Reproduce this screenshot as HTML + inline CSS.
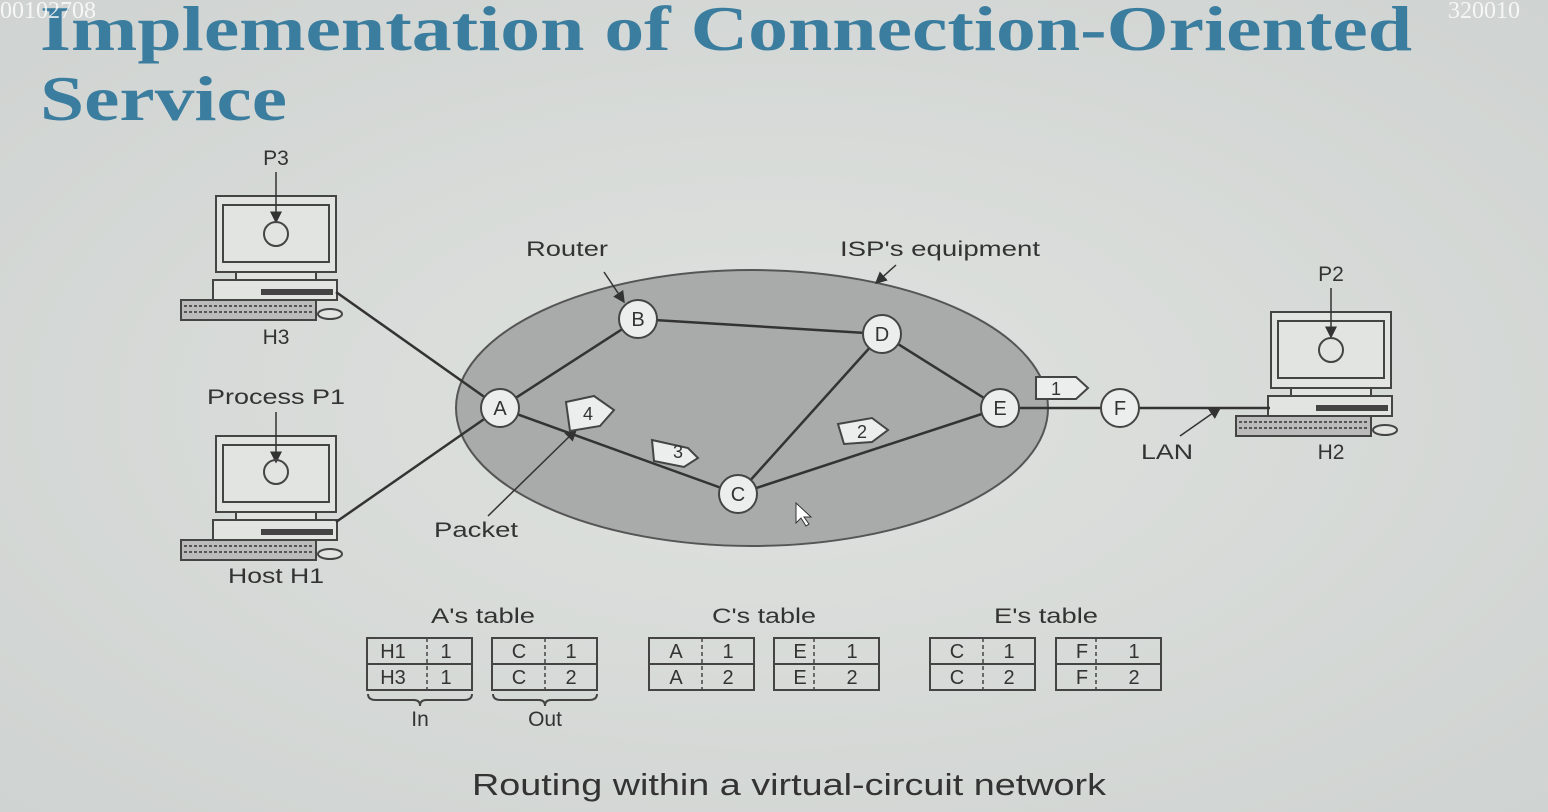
<!DOCTYPE html>
<html><head><style>
body{margin:0;width:1548px;height:812px;overflow:hidden;background:#d9dcda;}
svg{display:block}
</style></head><body>
<svg width="1548" height="812" viewBox="0 0 1548 812" xmlns="http://www.w3.org/2000/svg" font-family="Liberation Sans, sans-serif">
<defs>
<radialGradient id="bg" cx="50%" cy="50%" r="70%"><stop offset="0" stop-color="#dfe2df"/><stop offset="1" stop-color="#cfd3d1"/></radialGradient>
<marker id="ar" markerWidth="8" markerHeight="8" refX="7" refY="4" orient="auto"><path d="M0,0 L8,4 L0,8z" fill="#333"/></marker>
<g id="pc" stroke="#444" fill="#e2e4e2" stroke-width="2">
<rect x="216" y="196" width="120" height="76"/>
<rect x="223" y="205" width="106" height="57"/>
<rect x="236" y="272" width="80" height="8"/>
<rect x="213" y="280" width="124" height="20"/>
<rect x="262" y="290" width="70" height="4" fill="#444"/>
<rect x="181" y="300" width="135" height="20" fill="#bbb"/>
<path d="M184,306h128M184,312h128" stroke="#555" stroke-dasharray="3 2"/>
<ellipse cx="330" cy="314" rx="12" ry="5"/>
</g>
</defs>
<rect width="1548" height="812" fill="url(#bg)"/>
<g font-family="Liberation Serif,serif" font-weight="bold" font-size="64" fill="#3b7d9e">
<text x="40" y="50" textLength="1372" lengthAdjust="spacingAndGlyphs">Implementation of Connection-Oriented</text>
<text x="40" y="120" textLength="247" lengthAdjust="spacingAndGlyphs">Service</text>
</g>
<text x="0" y="18" font-family="Liberation Serif,serif" font-size="24" fill="#fff" opacity="0.8">00102708</text>
<text x="1448" y="18" font-family="Liberation Serif,serif" font-size="24" fill="#fff" opacity="0.8">320010</text>
<ellipse cx="752" cy="408" rx="296" ry="138" fill="#a9abaa" stroke="#555" stroke-width="2"/>
<use href="#pc"/>
<use href="#pc" transform="translate(0,240)"/>
<use href="#pc" transform="translate(1055,116)"/>
<g stroke="#333" stroke-width="2.5" fill="none">
<line x1="336" y1="292" x2="500" y2="408"/>
<line x1="336" y1="522" x2="500" y2="408"/>
<line x1="500" y1="408" x2="638" y2="319"/>
<line x1="638" y1="319" x2="882" y2="334"/>
<line x1="882" y1="334" x2="1000" y2="408"/>
<line x1="882" y1="334" x2="738" y2="494"/>
<line x1="500" y1="408" x2="738" y2="494"/>
<line x1="738" y1="494" x2="1000" y2="408"/>
<line x1="1000" y1="408" x2="1120" y2="408"/>
<line x1="1120" y1="408" x2="1270" y2="408"/>
</g>
<g stroke="#333" stroke-width="1.5" marker-end="url(#ar)">
<line x1="276" y1="172" x2="276" y2="222"/>
<line x1="276" y1="412" x2="276" y2="462"/>
<line x1="1331" y1="288" x2="1331" y2="337"/>
<line x1="604" y1="272" x2="624" y2="302"/>
<line x1="896" y1="265" x2="876" y2="283"/>
<line x1="488" y1="516" x2="576" y2="430"/>
<line x1="1180" y1="436" x2="1220" y2="408"/>
</g>
<g fill="none" stroke="#444" stroke-width="2">
<circle cx="276" cy="234" r="12"/><circle cx="276" cy="472" r="12"/><circle cx="1331" cy="350" r="12"/>
</g>
<g stroke="#444" stroke-width="2" fill="#eceeed">
<circle cx="500" cy="408" r="19"/><circle cx="638" cy="319" r="19"/><circle cx="882" cy="334" r="19"/>
<circle cx="1000" cy="408" r="19"/><circle cx="738" cy="494" r="19"/><circle cx="1120" cy="408" r="19"/>
</g>
<g font-size="20" fill="#333" text-anchor="middle">
<text x="500" y="415">A</text><text x="638" y="326">B</text><text x="882" y="341">D</text>
<text x="1000" y="415">E</text><text x="738" y="501">C</text><text x="1120" y="415">F</text>
</g>
<g stroke="#444" stroke-width="2" fill="#eceeed">
<path d="M1036,377h40l12,11l-12,11h-40z"/>
<path d="M566,402l28,-6l20,14l-14,16l-30,5z"/>
<path d="M652,440l36,8l10,10l-14,9l-30,-6z"/>
<path d="M838,424l34,-6l16,12l-16,12l-28,2z"/>
</g>
<g font-size="18" fill="#333" text-anchor="middle">
<text x="1056" y="395">1</text><text x="588" y="420">4</text><text x="678" y="458">3</text><text x="862" y="438">2</text>
</g>
<g font-size="21" fill="#333" text-anchor="middle" lengthAdjust="spacingAndGlyphs">
<text x="276" y="165">P3</text><text x="276" y="344">H3</text>
<text x="276" y="404" textLength="138" lengthAdjust="spacingAndGlyphs">Process P1</text><text x="276" y="583" textLength="96" lengthAdjust="spacingAndGlyphs">Host H1</text>
<text x="1331" y="281">P2</text><text x="1331" y="459">H2</text>
<text x="567" y="256" textLength="82" lengthAdjust="spacingAndGlyphs">Router</text><text x="940" y="256" textLength="200" lengthAdjust="spacingAndGlyphs">ISP's equipment</text>
<text x="476" y="537" textLength="84" lengthAdjust="spacingAndGlyphs">Packet</text><text x="1167" y="459" textLength="52" lengthAdjust="spacingAndGlyphs">LAN</text>
<text x="483" y="623" textLength="104" lengthAdjust="spacingAndGlyphs">A's table</text><text x="764" y="623" textLength="104" lengthAdjust="spacingAndGlyphs">C's table</text><text x="1046" y="623" textLength="104" lengthAdjust="spacingAndGlyphs">E's table</text>
<text x="420" y="726">In</text><text x="545" y="726">Out</text>
</g>
<g stroke="#444" stroke-width="2" fill="none">
<rect x="367" y="638" width="105" height="52"/><line x1="367" y1="664" x2="472" y2="664"/>
<rect x="492" y="638" width="105" height="52"/><line x1="492" y1="664" x2="597" y2="664"/>
<rect x="649" y="638" width="105" height="52"/><line x1="649" y1="664" x2="754" y2="664"/>
<rect x="774" y="638" width="105" height="52"/><line x1="774" y1="664" x2="879" y2="664"/>
<rect x="930" y="638" width="105" height="52"/><line x1="930" y1="664" x2="1035" y2="664"/>
<rect x="1056" y="638" width="105" height="52"/><line x1="1056" y1="664" x2="1161" y2="664"/>
<path d="M368,694q0,6 8,6h38q6,0 6,6q0,-6 6,-6h38q8,0 8,-6"/>
<path d="M493,694q0,6 8,6h38q6,0 6,6q0,-6 6,-6h38q8,0 8,-6"/>
</g>
<g stroke="#444" stroke-width="1.5" stroke-dasharray="4 3">
<line x1="427" y1="638" x2="427" y2="690"/><line x1="545" y1="638" x2="545" y2="690"/>
<line x1="702" y1="638" x2="702" y2="690"/><line x1="814" y1="638" x2="814" y2="690"/>
<line x1="983" y1="638" x2="983" y2="690"/><line x1="1096" y1="638" x2="1096" y2="690"/>
</g>
<g font-size="20" fill="#333" text-anchor="middle">
<text x="393" y="658">H1</text><text x="446" y="658">1</text><text x="393" y="684">H3</text><text x="446" y="684">1</text>
<text x="519" y="658">C</text><text x="571" y="658">1</text><text x="519" y="684">C</text><text x="571" y="684">2</text>
<text x="676" y="658">A</text><text x="728" y="658">1</text><text x="676" y="684">A</text><text x="728" y="684">2</text>
<text x="800" y="658">E</text><text x="852" y="658">1</text><text x="800" y="684">E</text><text x="852" y="684">2</text>
<text x="957" y="658">C</text><text x="1009" y="658">1</text><text x="957" y="684">C</text><text x="1009" y="684">2</text>
<text x="1082" y="658">F</text><text x="1134" y="658">1</text><text x="1082" y="684">F</text><text x="1134" y="684">2</text>
</g>
<text x="789" y="795" font-size="31" fill="#333" text-anchor="middle" textLength="634" lengthAdjust="spacingAndGlyphs">Routing within a virtual-circuit network</text>
<path d="M796,503l0,20l5,-5l5,8l3,-2l-5,-7l7,0z" fill="#fff" stroke="#333" stroke-width="1"/>
</svg>
</body></html>
